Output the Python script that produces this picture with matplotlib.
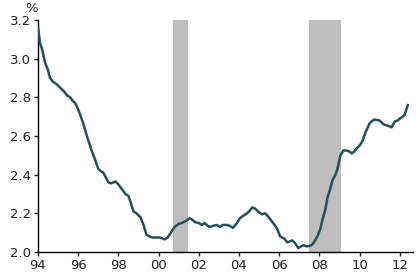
import matplotlib
matplotlib.use("Agg")
import matplotlib.pyplot as plt

years = [1994.0, 1994.1, 1994.2, 1994.35, 1994.5, 1994.6, 1994.75, 1994.9, 1995.1, 1995.3, 1995.45, 1995.6, 1995.7, 1995.85,
         1995.95, 1996.1, 1996.25, 1996.45, 1996.65, 1996.85, 1997.0, 1997.1, 1997.25, 1997.4, 1997.5, 1997.65, 1997.75,
         1997.85, 1998.0, 1998.1, 1998.25, 1998.35, 1998.5, 1998.6, 1998.75, 1998.9, 1999.1, 1999.25, 1999.4, 1999.55,
         1999.7, 1999.9, 2000.05, 2000.2, 2000.3, 2000.45, 2000.55, 2000.7, 2000.8, 2001.0, 2001.15, 2001.35, 2001.55,
         2001.7, 2001.8, 2002.0, 2002.15, 2002.3, 2002.45, 2002.55, 2002.7, 2002.9, 2003.05, 2003.2, 2003.4, 2003.55,
         2003.7, 2003.9, 2004.05, 2004.25, 2004.4, 2004.55, 2004.65, 2004.8, 2005.0, 2005.15, 2005.3, 2005.4, 2005.55,
         2005.7, 2005.9, 2006.05, 2006.25, 2006.4, 2006.55, 2006.65, 2006.8, 2006.95, 2007.1, 2007.2, 2007.35, 2007.45,
         2007.6, 2007.7, 2007.9, 2008.05, 2008.15, 2008.3, 2008.4, 2008.55, 2008.65, 2008.8, 2008.9, 2009.05, 2009.2,
         2009.35, 2009.5, 2009.6, 2009.75, 2009.85, 2010.0, 2010.15, 2010.3, 2010.5, 2010.65, 2010.75, 2011.0, 2011.2,
         2011.35, 2011.6, 2011.75, 2011.9, 2012.0, 2012.15, 2012.25, 2012.4]
rates = [3.165, 3.08, 3.05, 2.98, 2.94, 2.90, 2.88, 2.87, 2.85, 2.83, 2.81, 2.80, 2.785, 2.77,
         2.75, 2.71, 2.665, 2.595, 2.53, 2.475, 2.43, 2.42, 2.41, 2.38, 2.36, 2.355, 2.36,
         2.365, 2.35, 2.335, 2.315, 2.30, 2.29, 2.26, 2.21, 2.20, 2.18, 2.14, 2.09, 2.08,
         2.075, 2.075, 2.075, 2.07, 2.065, 2.075, 2.09, 2.115, 2.13, 2.145, 2.15, 2.16, 2.175,
         2.165, 2.155, 2.15, 2.14, 2.15, 2.135, 2.13, 2.135, 2.14, 2.13, 2.14, 2.14, 2.135,
         2.125, 2.15, 2.175, 2.19, 2.20, 2.215, 2.23, 2.225, 2.205, 2.195, 2.20, 2.19, 2.17,
         2.15, 2.12, 2.08, 2.07, 2.05, 2.055, 2.06, 2.045, 2.02, 2.03, 2.035, 2.03, 2.03,
         2.035, 2.045, 2.08, 2.12, 2.165, 2.22, 2.28, 2.33, 2.37, 2.40, 2.43, 2.50, 2.525,
         2.525, 2.52, 2.51, 2.52, 2.535, 2.55, 2.575, 2.62, 2.665, 2.68, 2.685, 2.68, 2.66,
         2.655, 2.645, 2.675, 2.68, 2.69, 2.70, 2.71, 2.76]

recessions = [(2000.72, 2001.47), (2007.48, 2009.07)]
xticks = [1994, 1996, 1998, 2000, 2002, 2004, 2006, 2008, 2010, 2012]
xticklabels = ["94", "96", "98", "00", "02", "04", "06", "08", "10", "12"]
yticks = [2.0, 2.2, 2.4, 2.6, 2.8, 3.0, 3.2]

plt.rcParams['font.family'] = ['DejaVu Sans']
fig = plt.figure(figsize=(4.2, 2.8), dpi=100)
ax = fig.add_axes([38/420, 1-252/280, (413-38)/420, (252-20)/280])

for a, b in recessions:
    ax.axvspan(a, b, color="#bebebe", lw=0, zorder=1)
ax.plot(years, rates, color="#23505c", lw=1.8, zorder=3)

ax.set_xlim(1994, 2012.66)
ax.set_ylim(2.0, 3.2)
ax.set_xticks(xticks)
ax.set_xticklabels(xticklabels)
ax.set_yticks(yticks)
ax.set_yticklabels([f"{v:.1f}" for v in yticks])
for s in ["top", "right"]:
    ax.spines[s].set_visible(False)
for s in ["left", "bottom"]:
    ax.spines[s].set_linewidth(1.0)
ax.tick_params(axis="both", direction="out", length=3, width=1, labelsize=9.5, pad=2, colors="#222222")
ax.tick_params(axis="both", labelcolor="#222222")
fig.text(32/420, 1-9/280, "%", ha="center", va="center", fontsize=9.5, color="#222222")

fig.savefig("out.png", dpi=100)
